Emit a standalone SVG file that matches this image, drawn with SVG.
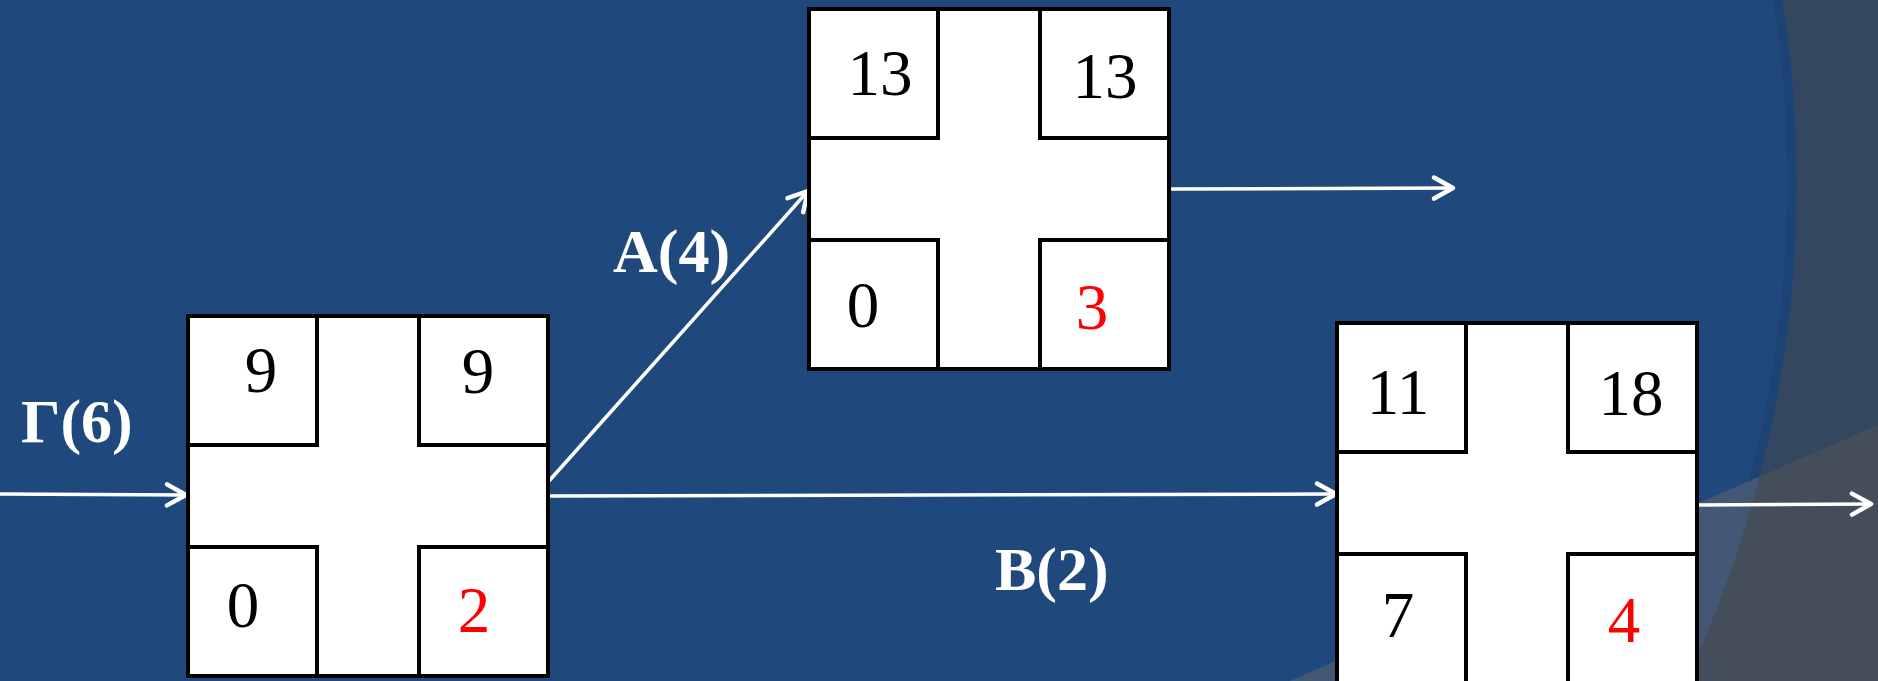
<svg xmlns="http://www.w3.org/2000/svg" width="1878" height="681" viewBox="0 0 1878 681">
<style>
.cell{fill:#fff;stroke:#000;stroke-width:4}
.num{font-family:"Liberation Serif","Times New Roman",serif;font-size:65px;text-anchor:middle;fill:#000}
.red{fill:#ff0000}
.lbl{font-family:"Liberation Serif","Times New Roman",serif;font-size:62px;font-weight:bold;fill:#fff}
.conn{fill:none;stroke:#fff;stroke-width:3.5}
</style>
<defs>
<marker id="arr" markerUnits="userSpaceOnUse" markerWidth="40" markerHeight="40" viewBox="-25 -20 40 40" refX="0" refY="0" orient="auto" overflow="visible">
<path d="M-19,-10.5 L0,0 L-19,10.5" fill="none" stroke="#fff" stroke-width="4.5" stroke-linecap="round" stroke-linejoin="round"/>
</marker>
<clipPath id="circ"><circle cx="626" cy="183" r="1171"/></clipPath>
</defs>
<g id="background">
<rect x="0" y="0" width="1878" height="681" fill="#334760"/>
<circle cx="626" cy="183" r="1171" fill="#1F497D"/>
<circle cx="626" cy="183" r="1166" fill="none" stroke="#1a3f6e" stroke-width="9" opacity="0.6"/>
<path d="M1290,681 L1878,425 L1878,681 Z" fill="#444E5A"/>
<path d="M1290,681 L1878,425 L1878,681 Z" fill="#435874" clip-path="url(#circ)"/>
</g>
<g id="connectors">
<path class="conn" d="M0,494 L186,495" marker-end="url(#arr)"/>
<path class="conn" d="M549,481 L808,191" marker-end="url(#arr)"/>
<path class="conn" d="M549,496 L1336,494" marker-end="url(#arr)"/>
<path class="conn" d="M1169,189 L1453,188" marker-end="url(#arr)"/>
<path class="conn" d="M1697,505 L1871,504" marker-end="url(#arr)"/>
</g>
<g id="labels">
<text class="lbl" x="21" y="442">Γ(6)</text>
<text class="lbl" x="613" y="272">A(4)</text>
<text class="lbl" x="995" y="590">B(2)</text>
</g>
<g id="node1">
<rect class="cell" x="188" y="316" width="360" height="360"/>
<rect class="cell" x="188" y="316" width="129" height="129"/>
<rect class="cell" x="419" y="316" width="129" height="129"/>
<rect class="cell" x="188" y="547" width="129" height="129"/>
<rect class="cell" x="419" y="547" width="129" height="129"/>
<text class="num" x="261" y="392">9</text>
<text class="num" x="478" y="393">9</text>
<text class="num" x="243" y="627">0</text>
<text class="num red" x="474" y="632">2</text>
</g>
<g id="node2">
<rect class="cell" x="809" y="9" width="360" height="360"/>
<rect class="cell" x="809" y="9" width="129" height="129"/>
<rect class="cell" x="1040" y="9" width="129" height="129"/>
<rect class="cell" x="809" y="240" width="129" height="129"/>
<rect class="cell" x="1040" y="240" width="129" height="129"/>
<text class="num" x="880" y="95">13</text>
<text class="num" x="1105" y="98">13</text>
<text class="num" x="863" y="327">0</text>
<text class="num red" x="1092" y="329">3</text>
</g>
<g id="node3">
<rect class="cell" x="1337" y="323" width="360" height="360"/>
<rect class="cell" x="1337" y="323" width="129" height="129"/>
<rect class="cell" x="1568" y="323" width="129" height="129"/>
<rect class="cell" x="1337" y="554" width="129" height="129"/>
<rect class="cell" x="1568" y="554" width="129" height="129"/>
<text class="num" x="1398" y="414">11</text>
<text class="num" x="1631" y="415">18</text>
<text class="num" x="1398" y="637">7</text>
<text class="num red" x="1624" y="642">4</text>
</g>
</svg>
